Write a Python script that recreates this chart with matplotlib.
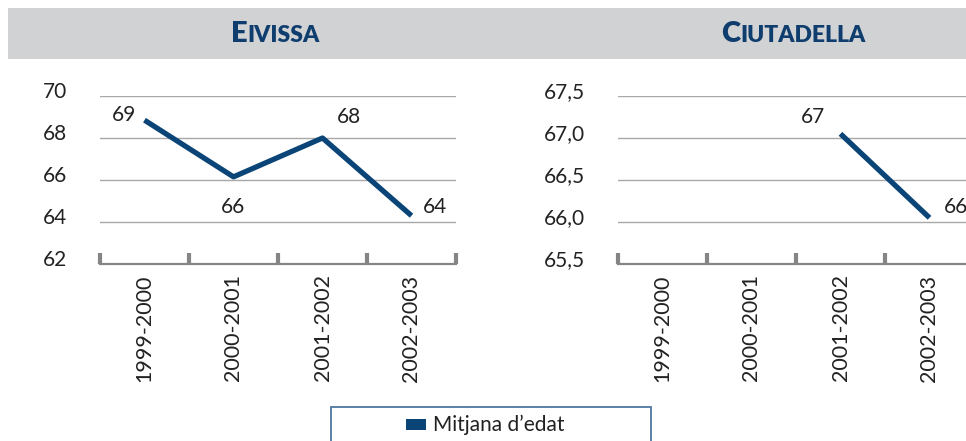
import math
import matplotlib
matplotlib.use("Agg")
import matplotlib.pyplot as plt
from matplotlib.patches import Rectangle
from matplotlib.transforms import ScaledTranslation

plt.rcParams["font.family"] = ["Lato", "DejaVu Sans"]

# ---- data ----
periods = ["1999-2000", "2000-2001", "2001-2002", "2002-2003"]
eivissa = [68.85, 66.15, 68.0, 64.3]
ciutadella = [math.nan, math.nan, 67.05, 66.05]
eivissa_ticks = [62, 64, 66, 68, 70]
eivissa_ticklabels = ["62", "64", "66", "68", "70"]
ciutadella_ticks = [65.5, 66.0, 66.5, 67.0, 67.5]
ciutadella_ticklabels = ["65,5", "66,0", "66,5", "67,0", "67,5"]
titles = ["Eivissa", "Ciutadella"]
legend_label = "Mitjana d\u2019edat"

# ---- style ----
W, H = 966, 441
LINE = "#0b4578"
TITLE = "#0f3d6e"
TEXT = "#222222"
GRID = "#a8a8a8"
AXIS = "#858585"
BAND = "#d1d2d4"
FS = 15

fig = plt.figure(figsize=(W / 100, H / 100), dpi=100)


def fx(px):
    return px / W


def fy(py):
    return 1 - py / H


# grey title band
fig.add_artist(Rectangle((fx(8), fy(59)), fx(970) - fx(8), fy(8) - fy(59),
                         transform=fig.transFigure, facecolor=BAND,
                         edgecolor="none", zorder=0))


def small_caps(cx, base, word, big=21, small=16.5):
    word = word.upper()
    t1 = fig.text(0, 0, word[0], fontsize=big, fontweight="heavy", color=TITLE,
                  va="baseline", ha="left")
    t2 = fig.text(0, 0, word[1:], fontsize=small, fontweight="heavy",
                  color=TITLE, va="baseline", ha="left")
    r = fig.canvas.get_renderer()
    w1 = t1.get_window_extent(r).width
    w2 = t2.get_window_extent(r).width
    x0 = cx - (w1 + w2) / 2
    t1.set_position((fx(x0), fy(base)))
    t2.set_position((fx(x0 + w1), fy(base)))


small_caps(275, 42, titles[0])
small_caps(793, 42, titles[1])

x = list(range(len(periods)))


def panel(left_px, values, ticks, ticklabels, ylim, offsets):
    ax = fig.add_axes([fx(left_px), fy(264), 356 / W, 168 / H])
    ax.set_xlim(-0.5, len(periods) - 0.5)
    ax.set_ylim(*ylim)
    for s in ["top", "left", "right"]:
        ax.spines[s].set_visible(False)
    ax.spines["bottom"].set_color(AXIS)
    ax.spines["bottom"].set_linewidth(1.6)
    ax.spines["bottom"].set_zorder(3)

    ax.set_yticks(ticks)
    ax.set_yticklabels(ticklabels)
    ax.tick_params(axis="y", length=0, pad=24, labelsize=FS, labelcolor=TEXT)
    shift = ScaledTranslation(0, 4.5 / 72, fig.dpi_scale_trans)
    for lab in ax.get_yticklabels():
        lab.set_transform(lab.get_transform() + shift)
    ax.yaxis.grid(True, color=GRID, linewidth=1.0)
    ax.set_axisbelow(True)

    ax.set_xticks(x)
    ax.set_xticklabels(periods, rotation=90)
    ax.tick_params(axis="x", which="major", length=0, pad=7.5, labelsize=15.5,
                   labelcolor=TEXT)
    ax.set_xticks([i - 0.5 for i in range(len(periods) + 1)], minor=True)
    ax.tick_params(axis="x", which="minor", direction="in", length=8,
                   width=3, color=AXIS)
    for t in ax.xaxis.get_minor_ticks():
        t.tick1line.set_zorder(4)

    ax.plot(x, values, color=LINE, linewidth=3.8, solid_capstyle="butt",
            clip_on=False, zorder=5)
    for xi, v, off in zip(x, values, offsets):
        if math.isnan(v):
            continue
        ax.annotate(f"{v:.0f}", (xi, v), xytext=off, textcoords="offset points",
                    ha="center", va="center", fontsize=FS, color=TEXT,
                    annotation_clip=False)
    return ax


panel(100, eivissa, eivissa_ticks, eivissa_ticklabels, (62, 70),
      [(-15, 3.6), (0, -22), (19, 15), (17, 6)])
panel(618, ciutadella, ciutadella_ticks, ciutadella_ticklabels, (65.5, 67.5),
      [(0, 0), (0, 0), (-20, 12), (19, 8)])

# legend box
fig.add_artist(Rectangle((fx(331), fy(460)), fx(651) - fx(331), fy(407) - fy(460),
                         transform=fig.transFigure, facecolor="white",
                         edgecolor="#4f76a2", linewidth=1.3, zorder=2))
fig.add_artist(Rectangle((fx(406), fy(430)), fx(426) - fx(406), fy(419) - fy(430),
                         transform=fig.transFigure, facecolor=LINE,
                         edgecolor="none", zorder=3))
fig.text(fx(433), fy(425), legend_label, fontsize=15, color=TEXT,
         ha="left", va="center", zorder=3)

fig.savefig("out.png", dpi=100)
